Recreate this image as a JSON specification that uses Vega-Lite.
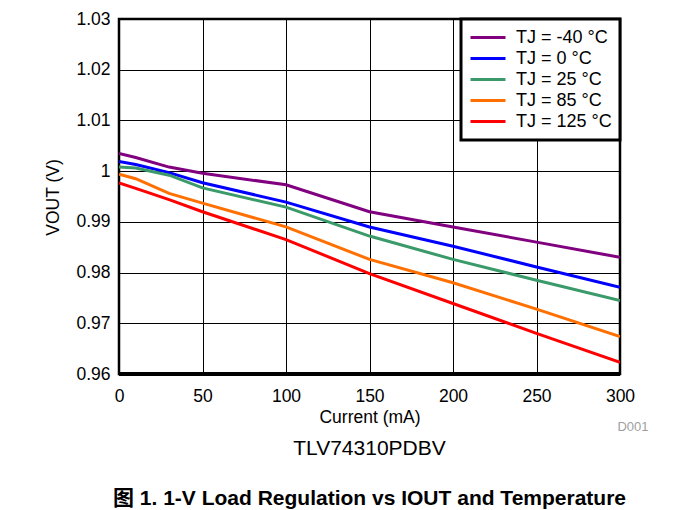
{
  "$schema": "https://vega.github.io/schema/vega-lite/v6.json",
  "width": 501,
  "height": 355,
  "autosize": "none",
  "padding": {"left": 119, "top": 19, "right": 53, "bottom": 136},
  "background": "white",
  "config": {
    "font": "Liberation Sans",
    "view": {"stroke": "black", "strokeWidth": 2.5},
    "axis": {
      "gridColor": "black", "gridOpacity": 1, "gridWidth": 1,
      "domain": false, "ticks": false, "tickSize": 0, "labelFlush": false,
      "labelFont": "Liberation Sans", "labelFontSize": 17.5, "labelColor": "black",
      "titleFont": "Liberation Sans", "titleFontSize": 17.5, "titleFontWeight": "normal", "titleColor": "black"
    },
    "legend": {
      "strokeWidth": 3
    }
  },
  "title": {
    "text": "TLV74310PDBV",
    "orient": "bottom",
    "anchor": "middle",
    "offset": 4,
    "font": "Liberation Sans",
    "fontSize": 21,
    "fontWeight": "normal",
    "color": "black",
    "subtitle": "图 1. 1-V Load Regulation vs IOUT and Temperature",
    "subtitleFont": "Liberation Sans, Noto Sans CJK SC",
    "subtitleFontSize": 21,
    "subtitleFontWeight": "bold",
    "subtitleColor": "black",
    "subtitlePadding": 29
  },
  "data": {
    "values": [
      {"I": 0, "V": 1.0035, "T": "TJ = -40 °C"},
      {"I": 10, "V": 1.0027, "T": "TJ = -40 °C"},
      {"I": 30, "V": 1.0008, "T": "TJ = -40 °C"},
      {"I": 50, "V": 0.9996, "T": "TJ = -40 °C"},
      {"I": 100, "V": 0.9973, "T": "TJ = -40 °C"},
      {"I": 150, "V": 0.9920, "T": "TJ = -40 °C"},
      {"I": 200, "V": 0.9890, "T": "TJ = -40 °C"},
      {"I": 250, "V": 0.9860, "T": "TJ = -40 °C"},
      {"I": 300, "V": 0.9830, "T": "TJ = -40 °C"},
      {"I": 0, "V": 1.0019, "T": "TJ = 0 °C"},
      {"I": 10, "V": 1.0013, "T": "TJ = 0 °C"},
      {"I": 30, "V": 0.9997, "T": "TJ = 0 °C"},
      {"I": 50, "V": 0.9977, "T": "TJ = 0 °C"},
      {"I": 100, "V": 0.9939, "T": "TJ = 0 °C"},
      {"I": 150, "V": 0.9890, "T": "TJ = 0 °C"},
      {"I": 200, "V": 0.9852, "T": "TJ = 0 °C"},
      {"I": 250, "V": 0.9811, "T": "TJ = 0 °C"},
      {"I": 300, "V": 0.9771, "T": "TJ = 0 °C"},
      {"I": 0, "V": 1.0008, "T": "TJ = 25 °C"},
      {"I": 10, "V": 1.0006, "T": "TJ = 25 °C"},
      {"I": 30, "V": 0.9992, "T": "TJ = 25 °C"},
      {"I": 50, "V": 0.9967, "T": "TJ = 25 °C"},
      {"I": 100, "V": 0.9929, "T": "TJ = 25 °C"},
      {"I": 150, "V": 0.9872, "T": "TJ = 25 °C"},
      {"I": 200, "V": 0.9826, "T": "TJ = 25 °C"},
      {"I": 250, "V": 0.9785, "T": "TJ = 25 °C"},
      {"I": 300, "V": 0.9745, "T": "TJ = 25 °C"},
      {"I": 0, "V": 0.9994, "T": "TJ = 85 °C"},
      {"I": 10, "V": 0.9985, "T": "TJ = 85 °C"},
      {"I": 30, "V": 0.9956, "T": "TJ = 85 °C"},
      {"I": 50, "V": 0.9937, "T": "TJ = 85 °C"},
      {"I": 100, "V": 0.9890, "T": "TJ = 85 °C"},
      {"I": 150, "V": 0.9826, "T": "TJ = 85 °C"},
      {"I": 200, "V": 0.9780, "T": "TJ = 85 °C"},
      {"I": 250, "V": 0.9728, "T": "TJ = 85 °C"},
      {"I": 300, "V": 0.9674, "T": "TJ = 85 °C"},
      {"I": 0, "V": 0.9977, "T": "TJ = 125 °C"},
      {"I": 10, "V": 0.9966, "T": "TJ = 125 °C"},
      {"I": 30, "V": 0.9944, "T": "TJ = 125 °C"},
      {"I": 50, "V": 0.9920, "T": "TJ = 125 °C"},
      {"I": 100, "V": 0.9865, "T": "TJ = 125 °C"},
      {"I": 150, "V": 0.9798, "T": "TJ = 125 °C"},
      {"I": 200, "V": 0.9739, "T": "TJ = 125 °C"},
      {"I": 250, "V": 0.9680, "T": "TJ = 125 °C"},
      {"I": 300, "V": 0.9623, "T": "TJ = 125 °C"}
    ]
  },
  "layer": [
    {
      "mark": {"type": "line", "strokeWidth": 3, "clip": true},
      "encoding": {
        "x": {
          "field": "I", "type": "quantitative",
          "scale": {"domain": [0, 300], "nice": false, "zero": false},
          "axis": {
            "values": [0, 50, 100, 150, 200, 250, 300],
            "labelPadding": 13,
            "title": "Current (mA)",
            "titleX": 250.5, "titleY": 48,
            "titleAlign": "center", "titleBaseline": "alphabetic"
          }
        },
        "y": {
          "field": "V", "type": "quantitative",
          "scale": {"domain": [0.96, 1.03], "nice": false, "zero": false},
          "axis": {
            "orient": "left",
            "values": [0.96, 0.97, 0.98, 0.99, 1.0, 1.01, 1.02, 1.03],
            "format": "~g",
            "labelPadding": 9,
            "title": "VOUT (V)",
            "titleAngle": -90,
            "titleX": -65.5, "titleY": 178,
            "titleAlign": "center", "titleBaseline": "middle"
          }
        },
        "color": {
          "field": "T", "type": "nominal",
          "scale": {
            "domain": ["TJ = -40 °C", "TJ = 0 °C", "TJ = 25 °C", "TJ = 85 °C", "TJ = 125 °C"],
            "range": ["#800080", "#0000ff", "#3a9a6a", "#ff7000", "#ff0000"]
          },
          "legend": {
            "title": null,
            "orient": "top-right",
            "offset": 0,
            "padding": 8,
            "strokeColor": "black",
            "fillColor": "white",
            "labelFont": "Liberation Sans",
            "labelFontSize": 18,
            "labelColor": "black",
            "labelOffset": 9,
            "symbolType": "stroke",
            "symbolSize": 1225,
            "symbolStrokeWidth": 3,
            "clipHeight": 21,
            "rowPadding": -0.8
          }
        }
      }
    },
    {
      "mark": {"type": "rule", "color": "black", "strokeWidth": 2.5},
      "encoding": {
        "y": {
          "datum": 0.96, "type": "quantitative",
          "axis": {
            "orient": "right",
            "grid": false,
            "labels": false,
            "title": "D001",
            "titleAngle": 0,
            "titleX": 12.5, "titleY": 411.7,
            "titleAlign": "center", "titleBaseline": "alphabetic",
            "titleFontSize": 13,
            "titleColor": "#a0a0a0"
          }
        }
      }
    }
  ],
  "resolve": {"axis": {"y": "independent"}}
}
